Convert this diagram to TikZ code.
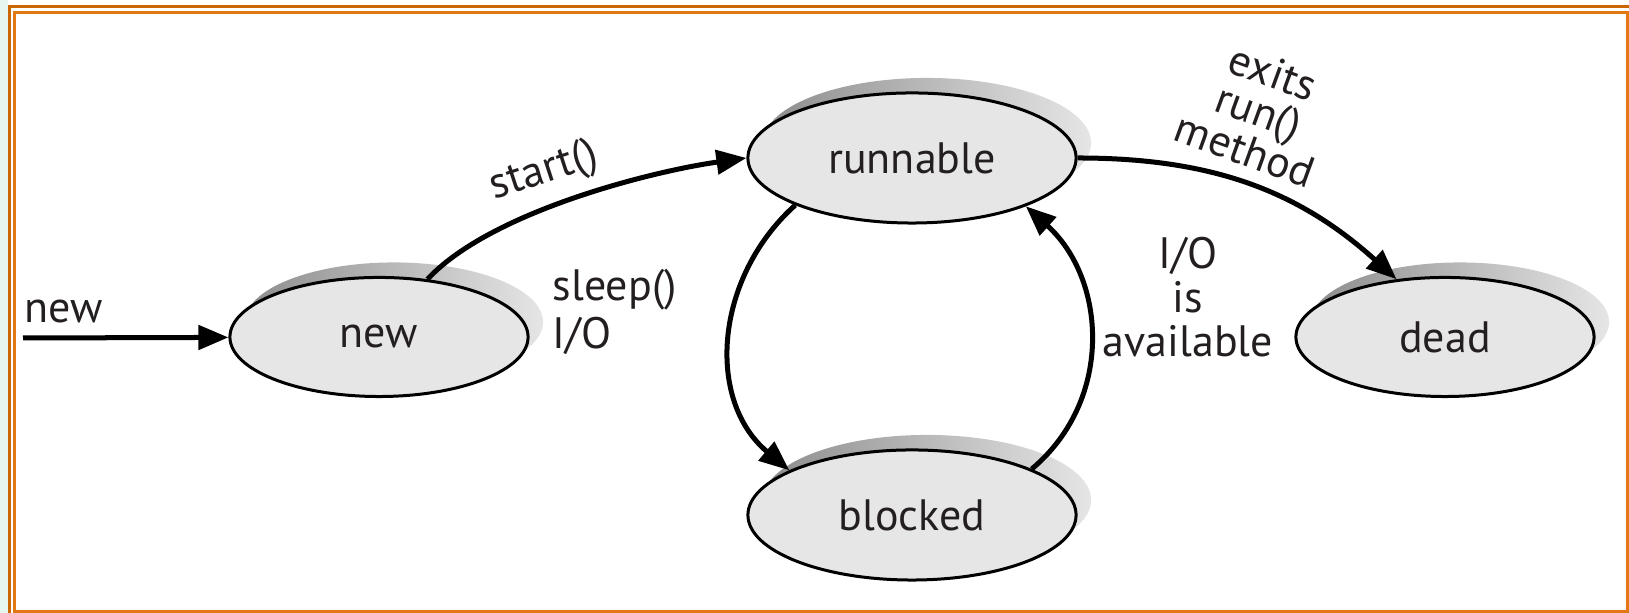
\documentclass[tikz,border=0pt]{standalone}
\usepackage{fontspec}
\setmainfont{PT Sans}
\usetikzlibrary{shapes.geometric, arrows.meta, shadows}
\definecolor{statefill}{RGB}{230,230,230}
\definecolor{inkgray}{RGB}{35,31,32}
\definecolor{frameout}{RGB}{204,102,0}
\definecolor{framein}{RGB}{226,120,20}
\definecolor{sidebg}{RGB}{232,246,240}
\newcommand{\labfont}{\fontsize{12.5}{12.5}\selectfont}
\tikzstyle{state} = [ellipse, draw, line width = 0.03cm, fill = statefill, inner sep = 0pt, minimum width = 3.28cm, minimum height = 1.3cm, font = \labfont, text = inkgray, general shadow = {shadow xshift = 0.15cm, shadow yshift = 0.15cm, left color = black!45, right color = black!10}]
\tikzstyle{smallstate} = [minimum width = 2.98cm, minimum height = 1.19cm]
\tikzstyle{trans} = [line width = 0.05cm, -{Triangle[length = 0.3cm, width = 0.24cm]}]
\tikzstyle{lbl} = [font = \labfont, text = inkgray, inner sep = 0pt]

\begin{document}
\begin{tikzpicture}[x = 0.01cm, y = 0.01cm]
  \useasboundingbox (0, 0) rectangle (1629, 613);
  \fill[sidebg] (0, 0) rectangle (8, 613);
  \draw[frameout, line width = 0.03cm] (9.5, 606.5) rectangle (1700, -50);
  \draw[framein, line width = 0.03cm] (14.5, 600.5) rectangle (1627.5, 1.5);
  \node[state, smallstate] (new) at (379, 276) {new};
  \node[state] (runnable) at (912, 455) {runnable};
  \node[state] (blocked) at (912, 98) {blocked};
  \node[state, smallstate] (dead) at (1445, 276) {dead};
  \coordinate (entry) at (23, 275);
  \node[lbl] (entrylbl) at (64, 301) {new};
  \draw[trans] (entry) -- (new);
  \draw[trans] (new.50) to[out = 47, in = 188, looseness = 0.7] (runnable.west);
  \draw[trans] (runnable.202) to[out = 222, in = 140, looseness = 1.05] (blocked.160);
  \draw[trans] (blocked.21) to[out = 40, in = 318, looseness = 1.05] (runnable.337);
  \draw[trans] (runnable.east) to[out = 0, in = 138] (dead.130);
  \node[lbl, rotate = 18] (startlbl) at (544, 441) {start()};
  \node[lbl, anchor = west, align = left] (sleeplbl) at (552, 301) {sleep()\\[1pt]I/O};
  \node[lbl, align = center] (iolbl) at (1188, 316) {I/O\\is\\available};
  \node[lbl, rotate = -20, align = center, font = \fontsize{12.5}{11.7}\selectfont] (exitslbl) at (1259, 502) {exits\\run()\\method};
\end{tikzpicture}
\end{document}
